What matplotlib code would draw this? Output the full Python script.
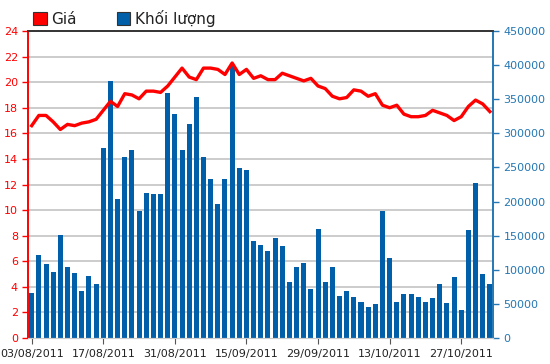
import matplotlib
matplotlib.use("Agg")
import matplotlib.pyplot as plt
from matplotlib.patches import Patch
import numpy as np

RED = "#FF0000"
BLUE = "#005FA8"
AXBLUE = "#2477B3"
GRID = "#CCCCCC"

# Data (65 trading days, Aug-Oct 2011)
DATE_LABELS = ["03/08/2011", "17/08/2011", "31/08/2011", "15/09/2011",
               "29/09/2011", "13/10/2011", "27/10/2011"]
DATE_POS = [0, 10, 20, 30, 40, 50, 60]

PRICE = [16.6, 17.4, 17.4, 16.9, 16.3, 16.7, 16.6, 16.8, 16.9, 17.1,
         17.8, 18.5, 18.1, 19.1, 19.0, 18.7, 19.3, 19.3, 19.2, 19.7,
         20.4, 21.1, 20.4, 20.2, 21.1, 21.1, 21.0, 20.6, 21.5, 20.6,
         21.0, 20.3, 20.5, 20.2, 20.2, 20.7, 20.5, 20.3, 20.1, 20.3,
         19.7, 19.5, 18.9, 18.7, 18.8, 19.4, 19.3, 18.9, 19.1, 18.2,
         18.0, 18.2, 17.5, 17.3, 17.3, 17.4, 17.8, 17.6, 17.4, 17.0,
         17.3, 18.1, 18.6, 18.3, 17.7]

VOLUME = [65400, 121500, 108000, 96200, 151000, 103500, 94700, 69400, 91300, 78600,
          277900, 376900, 203600, 264600, 275400, 186600, 211900, 210400, 210400, 358900,
          328100, 275800, 313900, 354000, 264600, 233800, 196300, 232500, 400900, 248600,
          246600, 141600, 136300, 127500, 146100, 134800, 82100, 103500, 109300, 71300,
          160100, 82100, 103500, 62100, 69400, 60000, 53300, 45900, 49300, 185600,
          116600, 53300, 63900, 63900, 60000, 53300, 58100, 78600, 51200, 89400,
          41100, 158300, 226500, 93200, 78600]

PRICE_TICKS = np.arange(0, 25, 2)
VOL_TICKS = np.arange(0, 450001, 50000)

fig = plt.figure(figsize=(5.5, 3.64), dpi=100)
ax = fig.add_axes([0.0515, 0.0714, 0.845, 0.8434])
axv = ax.twinx()

x = np.arange(len(VOLUME))

# volume bars + grid on the twin, price line on top
ax.set_zorder(axv.get_zorder() + 1)
ax.patch.set_visible(False)

for v in PRICE_TICKS[1:]:
    axv.axhline(v * 450000 / 24, color=GRID, lw=1.4, zorder=0)
axv.bar(x, VOLUME, width=0.7, color=BLUE, zorder=2)
axv.set_ylim(0, 450000)
axv.set_yticks(VOL_TICKS)
axv.set_yticklabels([str(v) for v in VOL_TICKS])

ax.plot(x, PRICE, color=RED, lw=2.4, solid_joinstyle="round")
ax.set_ylim(0, 24)
ax.set_yticks(PRICE_TICKS)
ax.set_xlim(-0.47, 64.45)
ax.set_xticks(DATE_POS)
ax.set_xticklabels(DATE_LABELS)

ax.tick_params(axis="y", colors=RED, labelsize=8, length=4, width=1)
ax.tick_params(axis="x", colors="#555555", labelcolor="#222222", labelsize=8, length=4, pad=4)
axv.tick_params(axis="y", colors=AXBLUE, labelsize=8, length=4, width=1)

for a in (ax, axv):
    a.spines["top"].set_color("#333333")
    a.spines["top"].set_linewidth(1.2)
    a.spines["bottom"].set_color(GRID)
    a.spines["left"].set_color(RED)
    a.spines["right"].set_color(AXBLUE)
    a.spines["left"].set_linewidth(1.2)
    a.spines["right"].set_linewidth(1.2)

handles = [Patch(facecolor=RED, edgecolor="#333333", lw=0.8),
           Patch(facecolor=BLUE, edgecolor="#333333", lw=0.8)]
fig.legend(handles, ["Giá", "Khối lượng"], loc="upper left",
           bbox_to_anchor=(0.035, 1.01), ncol=2, frameon=False, fontsize=11,
           handlelength=0.9, handleheight=0.9, handletextpad=0.3,
           columnspacing=2.6, labelcolor="#222222")

fig.savefig("out.png", dpi=100, facecolor="white")
